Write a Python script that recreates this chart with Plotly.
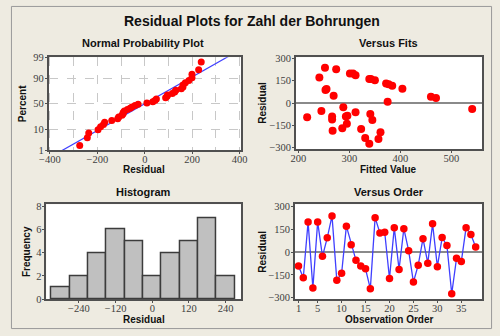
import plotly.graph_objects as go
from statistics import NormalDist, mean, stdev

# Residuals in observation order, and the matching fitted values
observation = list(range(1, 39))
residual = [-91, -169, 199, -236, 199, -28, 94, 238, -186, -139, 171, 49, -54, -91, -110,
            -242, 227, 126, 131, -174, 161, -114, 154, 9, -197, -86, 88, -73, 186, -96,
            96, 43, -274, -41, -62, 161, 116, 34]
fitted = [266, 286, 301, 331, 307, 288, 255, 252, 267, 295, 241, 269, 245, 293, 266,
          357, 274, 377, 372, 323, 339, 345, 350, 375, 361, 296, 253, 341, 312, 217,
          404, 460, 339, 541, 312, 342, 384, 470]

pct_ticks = [1, 10, 50, 90, 99]
order_ticks = [1, 5, 10, 15, 20, 25, 30, 35]
hist_ticks = [-240, -120, 0, 120, 240]

W, H = 500, 336
nd = NormalDist()


def px_x(a, b):
    return [a / W, b / W]


def px_y(top, bottom):
    return [1 - bottom / H, 1 - top / H]


# normal probability plot: median ranks on a normal scale
n = len(residual)
srt = sorted(residual)
z_pts = [nd.inv_cdf((i + 1 - 0.3) / (n + 0.4)) for i in range(n)]
mu, sd = mean(residual), stdev(residual)
z_lo, z_hi = nd.inv_cdf(0.005), nd.inv_cdf(0.995)
line_x = [mu + sd * z_lo, mu + sd * z_hi]

RED = "#FF0000"
BLUE = "#3F3FFF"
FRAME = "#505050"
TICKFONT = dict(family="Liberation Serif", size=10.5, color="#404040")
BOLD = "Liberation Sans"

fig = go.Figure()

fig.add_trace(go.Scatter(x=line_x, y=[z_lo, z_hi], mode="lines",
                         line=dict(color=BLUE, width=1.2), xaxis="x", yaxis="y",
                         showlegend=False, hoverinfo="skip"))
fig.add_trace(go.Scatter(x=srt, y=z_pts, mode="markers",
                         marker=dict(color=RED, size=7), xaxis="x", yaxis="y",
                         showlegend=False))

fig.add_trace(go.Scatter(x=fitted, y=residual, mode="markers",
                         marker=dict(color=RED, size=8), xaxis="x2", yaxis="y2",
                         showlegend=False))

fig.add_trace(go.Histogram(x=residual, xbins=dict(start=-330, end=270, size=60),
                           marker=dict(color="#C0C0C0", line=dict(color="#3C3C3C", width=1.5)),
                           xaxis="x3", yaxis="y3", showlegend=False))

fig.add_trace(go.Scatter(x=observation, y=residual, mode="lines+markers",
                         line=dict(color=BLUE, width=1.3),
                         marker=dict(color=RED, size=7.5), xaxis="x4", yaxis="y4",
                         showlegend=False))

axis_common = dict(showline=True, linecolor=FRAME, linewidth=1.5, mirror=True,
                   ticks="outside", ticklen=2, tickcolor=FRAME, tickfont=TICKFONT,
                   zeroline=False)
x_common = dict(axis_common, ticklabelstandoff=-3)
y_common = dict(axis_common, ticklabelstandoff=-1)
plain = dict(showgrid=False)

fig.update_layout(
    width=W, height=H, margin=dict(l=0, r=0, t=0, b=0),
    paper_bgcolor="#EEEBE1", plot_bgcolor="white",
    bargap=0,
    xaxis=dict(domain=px_x(40, 239), range=[-405, 405], anchor="y",
               tickvals=[-400, -200, 0, 200, 400], showgrid=True,
               gridcolor="#C8C8C8", griddash="dash", gridwidth=1,
               minor=dict(dtick=100, tick0=0, showgrid=True, gridcolor="#C8C8C8",
                          griddash="dash", ticks=""),
               **x_common),
    yaxis=dict(domain=px_y(54, 150), range=[nd.inv_cdf(0.01), nd.inv_cdf(0.99)], anchor="x",
               tickvals=[nd.inv_cdf(p / 100) for p in pct_ticks],
               ticktext=[str(p) for p in pct_ticks], showgrid=True,
               gridcolor="#C8C8C8", griddash="dash", gridwidth=1,
               **y_common),
    xaxis2=dict(domain=px_x(296, 489), range=[195, 561], anchor="y2",
                tickvals=[200, 300, 400, 500], **x_common, **plain),
    yaxis2=dict(domain=px_y(54, 149), range=[-310, 308], anchor="x2",
                tickvals=[-300, -150, 0, 150, 300], **y_common, **plain),
    xaxis3=dict(domain=px_x(37.5, 239), range=[-347, 290], anchor="y3",
                tickvals=hist_ticks, **x_common, **plain),
    yaxis3=dict(domain=px_y(206, 304), range=[0, 8.2], anchor="x3",
                tickvals=[0, 2, 4, 6, 8], **y_common, **plain),
    xaxis4=dict(domain=px_x(295, 489), range=[0.26, 39.4], anchor="y4",
                tickvals=order_ticks, **x_common, **plain),
    yaxis4=dict(domain=px_y(206, 304), range=[-309, 315], anchor="x4",
                tickvals=[-300, -150, 0, 150, 300], **y_common, **plain),
)

# reference lines at zero residual
for xa, ya in (("x2", "y2"), ("x4", "y4")):
    fig.add_shape(type="line", xref=f"{xa} domain", yref=ya, x0=0, x1=1, y0=0, y1=0,
                  line=dict(color="#8A8A8A", width=2), layer="below")

# outer frame
fig.add_shape(type="rect", xref="paper", yref="paper", x0=1.5 / W, x1=1 - 1.5 / W,
              y0=1.5 / H, y1=1 - 1.5 / H, line=dict(color="#9A9A9A", width=1))


def label(text, x, y, size, angle=0):
    fig.add_annotation(text=f"<b>{text}</b>", x=x / W, y=1 - y / H, xref="paper", yref="paper",
                       showarrow=False, textangle=angle, xanchor="center", yanchor="middle",
                       font=dict(family=BOLD, size=size, color="#111111"))


label("Residual Plots for Zahl der Bohrungen", 250, 17, 14)
label("Normal Probability Plot", 138, 39, 11)
label("Versus Fits", 392, 39, 11)
label("Histogram", 138, 193, 11)
label("Versus Order", 392, 193, 11)

label("Residual", 139, 170.5, 10)
label("Fitted Value", 392, 170.5, 10)
label("Residual", 139, 325, 10)
label("Observation Order", 392, 325, 10)

label("Percent", 13, 102, 10, -90)
label("Residual", 262, 101, 10, -90)
label("Frequency", 17, 255, 10, -90)
label("Residual", 262, 255, 10, -90)

fig.write_html("out.html")
